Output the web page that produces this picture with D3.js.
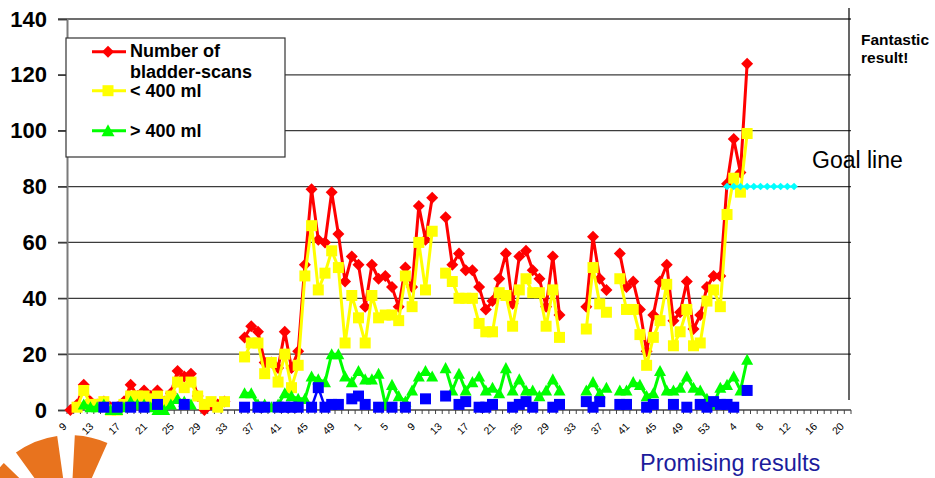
<!DOCTYPE html>
<html>
<head>
<meta charset="utf-8">
<script src="https://cdn.jsdelivr.net/npm/d3@7"></script>
<style>
  html, body { margin: 0; padding: 0; background: #fff; }
  svg { display: block; font-family: "Liberation Sans", Arial, sans-serif; }
</style>
</head>
<body>
<svg id="chart" width="935" height="478"></svg>
<script>
// Week numbers along the category axis (three consecutive years)
const weeks = [
  9,10,11,12,13,14,15,16,17,18,19,20,21,22,23,24,25,26,27,28,29,30,31,32,33,34,35,36,37,38,39,40,41,42,43,44,45,46,47,48,49,50,51,52,
  1,2,3,4,5,6,7,8,9,10,11,12,13,14,15,16,17,18,19,20,21,22,23,24,25,26,27,28,29,30,31,32,33,34,35,36,37,38,39,40,41,42,43,44,45,46,47,48,49,50,51,52,53,
  1,2,3,4,5,6,7,8,9,10,11,12,13,14,15,16,17,18,19,20
];

// Number of bladder-scans per week
const scans = [
  0,2,9,3,2,3,1,1,3,9,5,7,5,7,3,6,14,12,13,5,0,2,2,3,null,null,
  26,30,28,17,17,15,28,15,21,52, 79,61,60,78,63,46,55,52,37,52, 47,48,44,37,51,44,73,61,76,null,
  69,52,56,50,50,44,36,39,47,56, 38,55,57,50,47,37,55,34,null,null, null,37,62,47,43,null,
  56,44,46,36,21,34,46,52,32,35, 46,29,34,44,48,48,81,97,85,124,
  ...Array(15).fill(null)
];

// Scans with volume < 400 ml
const under400 = [
  null,1,7,2,2,3,0,0,2,5,5,5,4,5,3,5,10,8,10,5,2,3,1,3,null,null,
  19,24,24,13,17,10,20,8,16,48, 66,43,49,57,51,24,41,33,24,41, 33,34,34,32,48,37,60,43,64,null,
  49,46,40,40,40,31,28,28,42,41, 30,43,47,42,42,30,43,26,null,null, null,29,51,38,35,null,
  47,36,36,27,16,26,32,45,23,28, 36,23,24,39,43,37,70,83,78,99,
  ...Array(15).fill(null)
];

// Scans with volume > 400 ml
const over400 = [
  null,null,2,1,1,2,0,0,1,3,2,2,1,0,0,2,4,3,2,null,null,null,null,null,null,null,
  6,6,2,2,1,2,6,5,4,4, 12,11,10,20,20,12,10,14,11,11, 13,2,9,5,3,7,12,14,12,null,
  15,7,13,7,10,12,7,8,6,15, 7,11,7,7,5,7,11,7,null,null, null,7,10,6,8,null,
  7,7,10,9,5,6,14,7,7,8, 12,8,7,4,2,8,9,12,7,18,
  ...Array(15).fill(null)
];

// Fourth series (blue squares)
const other = [
  null,null,null,null,null,1,null,1,null,1,null,1,null,2,null,null,null,2,null,null,null,null,null,null,null,null,
  1,null,1,1,null,1,1,1,1,null, 1,8,1,2,2,null,4,5,2,null, 1,null,1,null,1,null,null,4,null,null,
  5,null,2,3,null,1,1,2,null,null, 1,2,3,1,null,null,1,2,null,null, null,3,1,3,null,null,
  2,2,null,null,1,2,null,null,2,null, 1,null,2,1,3,2,2,1,null,7,
  ...Array(15).fill(null)
];

// Goal line at 80 scans per week
const goalLine = [
  ...Array(98).fill(null),
  80,80,80,80,80,80,80,80,80,80,80,
  ...Array(8).fill(null)
];

const yTicks = [0, 20, 40, 60, 80, 100, 120, 140];

const svg = d3.select("#chart");

const x = d3.scaleBand()
  .domain(d3.range(weeks.length))
  .range([67, 851])
  .padding(0);
const xc = i => x(i) + x.bandwidth() / 2;

const y = d3.scaleLinear().domain([0, 140]).range([410, 19]);

// Logo fragment in the lower-left corner (drawn first, behind the axis labels)
const arc = d3.arc().innerRadius(42).outerRadius(92);
const logo = svg.append("g").attr("transform", "translate(70,527)");
[[-88, -46], [-36, -8], [3, 24]].forEach(([a0, a1]) => {
  logo.append("path")
    .attr("d", arc({ startAngle: a0 * Math.PI / 180, endAngle: a1 * Math.PI / 180 }))
    .attr("fill", "#e8731e");
});

// Horizontal gridlines
svg.append("g")
  .selectAll("line")
  .data(yTicks.filter(t => t > 0))
  .join("line")
  .attr("x1", 58).attr("x2", 851)
  .attr("y1", d => y(d)).attr("y2", d => y(d))
  .attr("stroke", "#3c3c3c").attr("stroke-width", 1.3);

// Vertical marker line at the right edge
svg.append("line")
  .attr("x1", 849).attr("x2", 849)
  .attr("y1", 8).attr("y2", 400)
  .attr("stroke", "#000").attr("stroke-width", 1.2);

// Y axis
const yAxis = svg.append("g")
  .attr("transform", "translate(67,0)")
  .call(d3.axisLeft(y).tickValues(yTicks).tickSize(9).tickPadding(11));
yAxis.select(".domain").attr("stroke", "#7a7a7a").attr("stroke-width", 2);
yAxis.selectAll(".tick line").attr("stroke", "#3c3c3c").attr("stroke-width", 1.3);
yAxis.selectAll(".tick text")
  .attr("font-family", "'Liberation Sans', Arial, sans-serif")
  .attr("font-size", 22).attr("font-weight", "bold").attr("fill", "#000");

// X axis: baseline, boundary ticks and rotated week labels
const xAxis = svg.append("g");
xAxis.append("line")
  .attr("x1", 67).attr("x2", 851).attr("y1", 410).attr("y2", 410)
  .attr("stroke", "#444").attr("stroke-width", 1.5);
xAxis.selectAll("line.tk")
  .data(d3.range(weeks.length + 1))
  .join("line").attr("class", "tk")
  .attr("x1", k => 67 + k * x.step()).attr("x2", k => 67 + k * x.step())
  .attr("y1", 410).attr("y2", 414)
  .attr("stroke", "#444").attr("stroke-width", 1);
xAxis.selectAll("text")
  .data(d3.range(0, weeks.length, 4))
  .join("text")
  .attr("transform", i => `translate(${xc(i) - 3},427) rotate(-45)`)
  .attr("text-anchor", "end")
  .attr("font-size", 10.5)
  .attr("fill", "#000")
  .text(i => weeks[i]);

// Series drawing
const markers = {
  diamond: r => `M0,${-r}L${r},0L0,${r}L${-r},0Z`,
  square: r => `M${-r},${-r}H${r}V${r}H${-r}Z`,
  triangle: r => `M0,${-r}L${r},${r * 0.85}L${-r},${r * 0.85}Z`
};

function drawSeries(values, color, shape, r, width) {
  const g = svg.append("g");
  const line = d3.line()
    .defined(d => d != null)
    .x((d, i) => xc(i))
    .y(d => y(d));
  g.append("path")
    .attr("d", line(values))
    .attr("fill", "none")
    .attr("stroke", color)
    .attr("stroke-width", width)
    .attr("stroke-linejoin", "round");
  g.selectAll("path.m")
    .data(values.map((v, i) => ({ v, i })).filter(d => d.v != null))
    .join("path").attr("class", "m")
    .attr("transform", d => `translate(${xc(d.i)},${y(d.v)})`)
    .attr("d", markers[shape](r))
    .attr("fill", color);
}

drawSeries(scans, "#ff0000", "diamond", 6, 3);
drawSeries(under400, "#ffff00", "square", 5.5, 3);
drawSeries(over400, "#00ff00", "triangle", 6, 3);
drawSeries(other, "#0000ff", "square", 5.5, 2.5);
drawSeries(goalLine, "#00ffff", "diamond", 3.8, 2);

// Legend
const lg = svg.append("g");
lg.append("rect")
  .attr("x", 66).attr("y", 38).attr("width", 219).attr("height", 119)
  .attr("fill", "#fff").attr("stroke", "#333").attr("stroke-width", 1.2);
const legendItems = [
  { color: "#ff0000", shape: "diamond", r: 6, ly: 51.7, lines: ["Number of", "bladder-scans"], ty: [57, 78] },
  { color: "#ffff00", shape: "square", r: 5.5, ly: 90.7, lines: ["< 400 ml"], ty: [97] },
  { color: "#00ff00", shape: "triangle", r: 6.5, ly: 130.7, lines: ["> 400 ml"], ty: [136.5] }
];
legendItems.forEach(it => {
  lg.append("line")
    .attr("x1", 92).attr("x2", 126).attr("y1", it.ly).attr("y2", it.ly)
    .attr("stroke", it.color).attr("stroke-width", 3);
  lg.append("path")
    .attr("transform", `translate(108,${it.ly})`)
    .attr("d", markers[it.shape](it.r))
    .attr("fill", it.color);
  it.lines.forEach((t, k) => {
    lg.append("text")
      .attr("x", 130).attr("y", it.ty[k])
      .attr("font-size", 18).attr("font-weight", "bold").attr("fill", "#000")
      .text(t);
  });
});

// Annotations
svg.append("text").attr("x", 861).attr("y", 45)
  .attr("font-size", 15.5).attr("font-weight", "bold").text("Fantastic");
svg.append("text").attr("x", 861).attr("y", 63)
  .attr("font-size", 15.5).attr("font-weight", "bold").text("result!");
svg.append("text").attr("x", 812).attr("y", 168)
  .attr("font-size", 23).attr("fill", "#000").text("Goal line");
svg.append("text").attr("x", 640).attr("y", 471)
  .attr("font-size", 23.5).attr("fill", "#1c1c9c").text("Promising results");
</script>
</body>
</html>
